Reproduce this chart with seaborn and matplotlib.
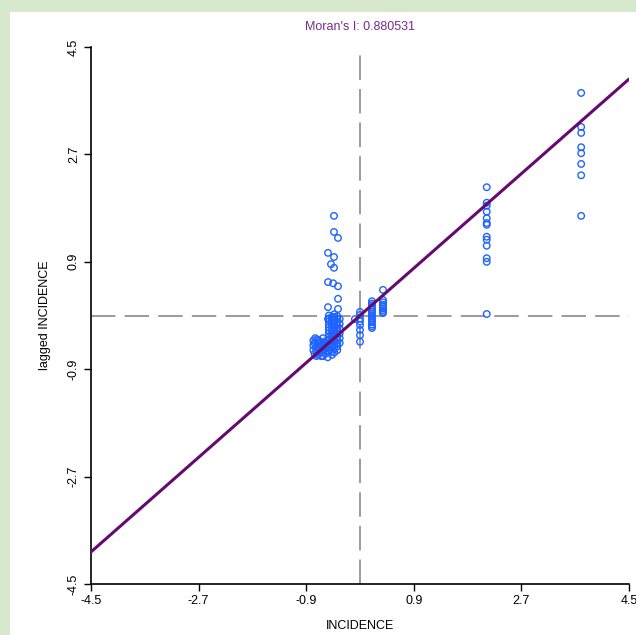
import matplotlib
matplotlib.use("Agg")
import matplotlib.pyplot as plt
import seaborn as sns
import pandas as pd
from matplotlib.patches import Rectangle

# ---- data ----
moran_i = 0.880531
ticks = [-4.5, -2.7, -0.9, 0.9, 2.7, 4.5]
tick_labels = ["-4.5", "-2.7", "-0.9", "0.9", "2.7", "4.5"]

# lower-left cluster
x_ll = [-0.78, -0.78, -0.78, -0.76, -0.76, -0.74, -0.72, -0.72, -0.70, -0.70, -0.68, -0.66,
        -0.66, -0.64, -0.62, -0.62, -0.60, -0.60, -0.58, -0.56, -0.56, -0.54, -0.54,
        -0.75, -0.71, -0.67, -0.63, -0.59, -0.69, -0.65, -0.61, -0.57, -0.73]
y_ll = [-0.42, -0.50, -0.58, -0.46, -0.64, -0.54, -0.40, -0.60, -0.48, -0.66, -0.56, -0.44,
        -0.62, -0.52, -0.38, -0.68, -0.58, -0.46, -0.64, -0.42, -0.54, -0.60, -0.70,
        -0.38, -0.52, -0.50, -0.58, -0.50, -0.42, -0.68, -0.50, -0.48, -0.68]

# dense column
x_col = [-0.52] * 12 + [-0.47] * 12 + [-0.43] * 12 + [-0.38] * 12 + [-0.34] * 6
y_col = [0.00, -0.05, -0.10, -0.15, -0.20, -0.25, -0.30, -0.36, -0.42, -0.48, -0.54, -0.60,
         -0.02, -0.07, -0.12, -0.18, -0.24, -0.30, -0.36, -0.42, -0.48, -0.54, -0.60, -0.66,
         0.02, -0.03, -0.08, -0.14, -0.20, -0.26, -0.32, -0.38, -0.44, -0.50, -0.56, -0.62,
         -0.01, -0.06, -0.11, -0.16, -0.21, -0.26, -0.31, -0.36, -0.41, -0.46, -0.52, -0.58,
         -0.06, -0.14, -0.22, -0.30, -0.38, -0.46]

# scattered points above the dense column
x_up = [-0.435, -0.435, -0.368, -0.535, -0.435, -0.485, -0.435, -0.535, -0.45, -0.368,
        -0.368, -0.535, -0.368, -0.535]
y_up = [1.67, 1.40, 1.30, 1.05, 0.98, 0.86, 0.80, 0.56, 0.54, 0.49,
        0.28, 0.14, 0.11, -0.06]

# near centre
x_mid = [-0.085] + [0.0] * 8 + [0.20] * 14 + [0.385] * 9
y_mid = [-0.06,
         0.06, 0.01, -0.05, -0.10, -0.16, -0.24, -0.33, -0.44,
         0.24, 0.20, 0.17, 0.13, 0.10, 0.06, 0.03, -0.01, -0.04, -0.08, -0.11, -0.15, -0.18, -0.21,
         0.43, 0.26, 0.22, 0.18, 0.15, 0.12, 0.09, 0.06, 0.04]

# right columns
x_r1 = [2.12] * 13
y_r1 = [2.15, 1.89, 1.84, 1.74, 1.63, 1.55, 1.52, 1.32, 1.27, 1.17, 0.96, 0.90, 0.025]
x_r2 = [3.70] * 8
y_r2 = [3.73, 3.16, 3.06, 2.82, 2.72, 2.54, 2.35, 1.67]

xs = x_ll + x_col + x_up + x_mid + x_r1 + x_r2
ys = y_ll + y_col + y_up + y_mid + y_r1 + y_r2
df = pd.DataFrame({"INCIDENCE": xs, "lagged": ys})

# ---- plot ----
sns.set_theme(style="white")
plt.rcParams["font.family"] = ["Liberation Sans", "DejaVu Sans"]

fig = plt.figure(figsize=(6.36, 6.35), dpi=100, facecolor="#d6e9cd")
bg = Rectangle((10 / 636, 0), 1, (635 - 12) / 635, transform=fig.transFigure,
               facecolor="white", edgecolor="none", zorder=-10)
fig.add_artist(bg)
ax = fig.add_axes([91 / 636, 1 - 584 / 635, (629 - 91) / 636, (584 - 47) / 635])
ax.set_zorder(5)
ax.set_facecolor("none")

ax.axvline(0, color="#808080", lw=1.1, dashes=(16, 6), zorder=1)
ax.axhline(0, color="#808080", lw=1.1, dashes=(16, 6), zorder=1)

sns.scatterplot(data=df, x="INCIDENCE", y="lagged", ax=ax, marker="o",
                facecolors="none", edgecolor="#1f63ff", linewidth=1.0, s=22, zorder=3)

ax.axline((0, 0), slope=moran_i, color="#650a6e", lw=2.2, zorder=4)

ax.set_xlim(-4.5, 4.5)
ax.set_ylim(-4.5, 4.5)
ax.set_xticks(ticks)
ax.set_xticklabels(tick_labels)
ax.set_yticks(ticks)
ax.set_yticklabels(tick_labels, rotation=90, va="center")
ax.tick_params(axis="both", which="both", direction="out", length=5, width=1,
               color="black", labelsize=9, labelcolor="black", pad=3,
               bottom=True, left=True)
for side in ["top", "right"]:
    ax.spines[side].set_visible(False)
for side in ["left", "bottom"]:
    ax.spines[side].set_color("black")
    ax.spines[side].set_linewidth(1.2)

ax.set_xlabel("INCIDENCE", fontsize=9, color="black", labelpad=9)
ax.set_ylabel("lagged INCIDENCE", fontsize=9, color="black", labelpad=12)
ax.set_title("Moran's I: 0.880531", fontsize=9, color="#7a2a8e", pad=12)

fig.savefig("out.png", dpi=100, facecolor=fig.get_facecolor())
